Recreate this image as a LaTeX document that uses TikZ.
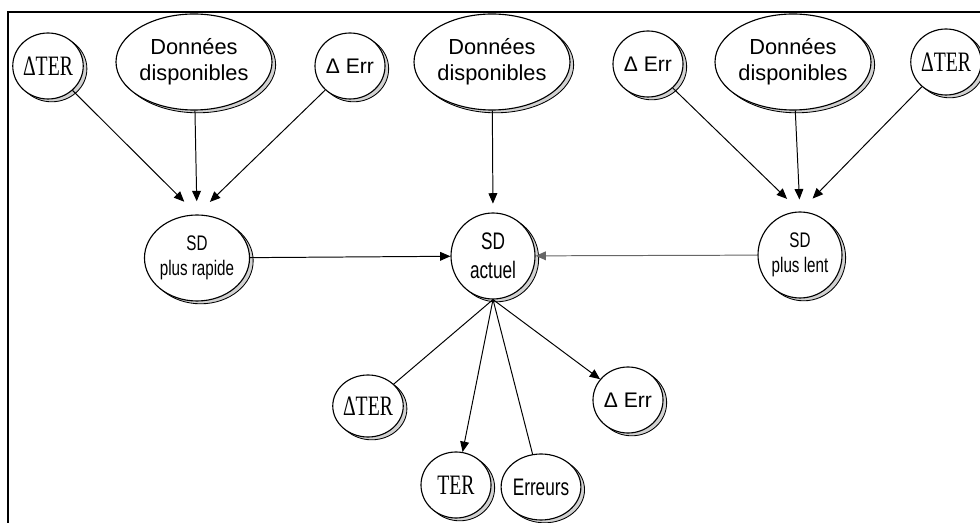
\documentclass[tikz,border=0pt]{standalone}
\usepackage{fontspec}
\setmainfont{Liberation Sans}
\newfontfamily\narrowsf[FakeStretch=0.72]{Liberation Sans}
\newfontfamily\narrowrm[FakeStretch=0.7]{Liberation Serif}
\usetikzlibrary{arrows.meta, shapes.geometric, shadows}

\newcommand{\terfont}{\narrowrm\fontsize{20}{22}\selectfont}
\newcommand{\errfont}{\fontsize{15}{18}\selectfont}
\newcommand{\sdfont}{\narrowsf\fontsize{15}{18}\selectfont}

\begin{document}
\begin{tikzpicture}[
    >={Triangle[length=2.6mm,width=2.2mm]},
    var/.style={ellipse, draw, fill=white, line width=0.8pt, inner sep=0pt,
      minimum width=1.75cm, minimum height=1.65cm, align=center,
      copy shadow={shadow xshift=2.6pt, shadow yshift=-2pt, draw=black, fill=gray!35, line width=0.6pt}},
    data/.style={var, minimum width=3.9cm, minimum height=2.4cm, font=\fontsize{15.5}{18.5}\selectfont},
    sd/.style={var, minimum width=2.1cm, minimum height=2.15cm},
    link/.style={line width=0.7pt}
  ]
        \useasboundingbox (0,0) rectangle (24.5,13.075);
        \draw[line width=1.6pt] (0.2,0) -- (0.2,12.775) -- (24.5,12.775);
        % 1st layer
        \node[var, font=\terfont] (11) at (1.2,11.425) {ΔTER};
        \node[data] (12) at (4.85,11.525) {Données\\disponibles};
        \node[var, font=\errfont] (13) at (8.75,11.425) {Δ Err};
        \node[data] (14) at (12.3,11.525) {Données\\disponibles};
        \node[var, font=\errfont] (15) at (16.2,11.475) {Δ Err};
        \node[data] (16) at (19.825,11.525) {Données\\disponibles};
        \node[var, font=\terfont] (17) at (23.65,11.525) {ΔTER};
        % 2nd layer
        \node[sd, font=\sdfont] (21) at (4.925,6.625) {SD\\plus rapide};
        \node[sd, font=\narrowsf\fontsize{17}{21}\selectfont] (22) at (12.325,6.675) {SD\\actuel};
        \node[sd, font=\sdfont] (23) at (20.0,6.7) {SD\\plus lent};
        % 3rd layer
        \node[var, font=\terfont, minimum height=1.55cm] (31) at (9.2,2.925) {ΔTER};
        \node[var, font=\errfont] (32) at (15.7,3.075) {Δ Err};
        \node[var, font=\terfont] (33) at (11.4,0.95) {TER};
        \node[var, font=\narrowsf\fontsize{17}{20}\selectfont] (34) at (13.525,0.9) {Erreurs};

        % arrows into the SD nodes
        \draw[->, link, shorten >=0.45cm] (11) -- (21.north);
        \draw[->, link, shorten >=0.33cm] (12) -- (21.north);
        \draw[->, link, shorten >=0.45cm] (13) -- (21.north);
        \draw[->, link, shorten >=0.22cm] (14) -- (22.north);
        \draw[->, link, shorten >=0.45cm] (15) -- (23.north);
        \draw[->, link, shorten >=0.3cm] (16) -- (23.north);
        \draw[->, link, shorten >=0.45cm] (17) -- (23.north);
        \draw[->, link] (21) -- (22);
        \draw[->, link, black!60] (23) -- (22);
        % out of SD actuel
        \draw[link] (22.south) -- (31);
        \draw[->, link] (22.south) -- (33);
        \draw[link] (22.south) -- (34);
        \draw[->, link] (22.south) -- (32);
    \end{tikzpicture}
\end{document}
